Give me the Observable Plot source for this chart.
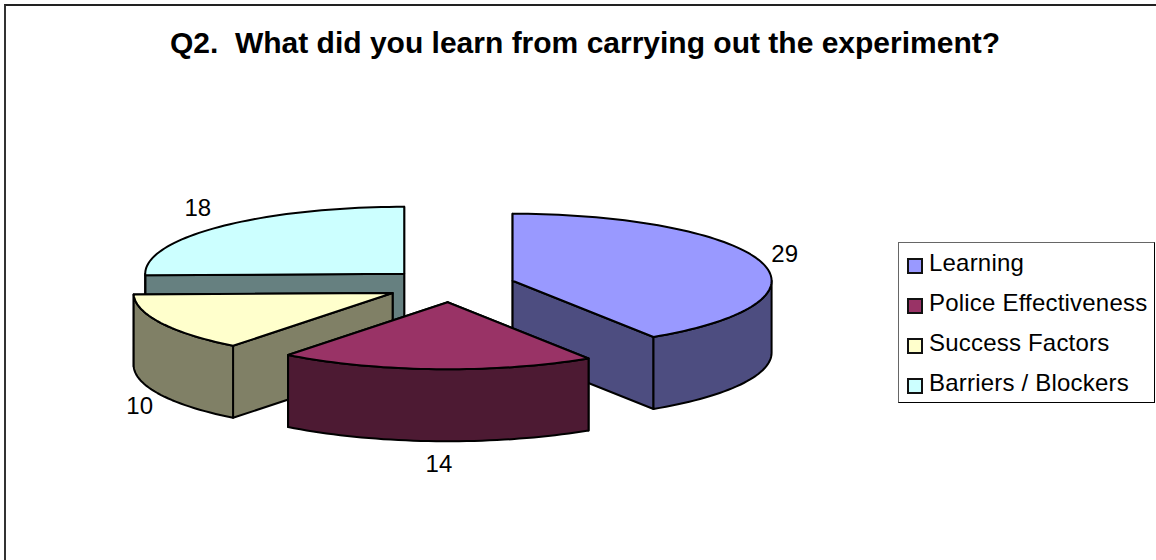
<!DOCTYPE html>
<html>
<head>
<meta charset="utf-8">
<script src="https://cdn.jsdelivr.net/npm/d3@7"></script>
<script src="https://cdn.jsdelivr.net/npm/@observablehq/plot@0.6"></script>
<style>
  html, body { margin: 0; padding: 0; background: #fff; overflow: hidden; }
  #wrap { position: relative; width: 1156px; height: 560px; overflow: hidden; font-family: "Liberation Sans", Arial, sans-serif; color: #000; }
  #edge { position: absolute; left: 4px; top: 4px; width: 1200px; height: 600px; border-left: 2px solid #333; border-top: 2px solid #222; }
  #title { position: absolute; left: 0; top: 27px; width: 1170px; text-align: center; margin: 0; font-size: 30px; line-height: 32px; font-weight: bold; white-space: pre; }
  #legend { position: absolute; left: 898px; top: 242px; width: 255px; height: 159px; border: 1px solid #000; border-left-color: #666; border-top-color: #666; box-sizing: content-box; background: #fff; }
  .row { position: absolute; left: 8px; height: 24px; font-size: 24px; line-height: 24px; white-space: pre; letter-spacing: .2px; }
  .sw { position: absolute; left: 0; top: 5px; width: 12px; height: 12px; border: 2px solid #111; }
  .lb { position: absolute; left: 22px; top: -2px; }
  svg { position: absolute; left: 0; top: 0; background: transparent !important; }
</style>
</head>
<body>
<div id="wrap">
  <div id="edge"></div>
  <h1 id="title"></h1>
  <div id="chart"></div>
  <div id="legend"></div>
</div>
<script>
const titleText = "Q2.  What did you learn from carrying out the experiment?";
const categories = ["Learning", "Police Effectiveness", "Success Factors", "Barriers / Blockers"];
const values = [29, 14, 10, 18];
const topColors = ["#9999ff", "#993366", "#ffffcc", "#ccffff"];
const wallColors = ["#4d4d80", "#4d1a33", "#808066", "#668080"];

// Pie geometry, in pie units (radius = 1 on both axes; the scales flatten it).
const explode = 0.25;
const depth = 72 / 67;
const total = d3.sum(values);
const TAU = Math.PI * 2;

let running = 0;
const slices = values.map((v, i) => {
  const a0 = running / total * TAU;
  running += v;
  const a1 = running / total * TAU;
  const mid = (a0 + a1) / 2;
  return {
    i, v, a0, a1, mid,
    cx: explode * Math.sin(mid),
    cy: -explode * Math.cos(mid)
  };
});

const onRim = (s, a, drop = 0) => ({ x: s.cx + Math.sin(a), y: s.cy - Math.cos(a) + drop });
const arcPts = (s, a0, a1, drop = 0) => {
  const n = Math.max(2, Math.ceil((a1 - a0) / 0.03));
  return d3.range(n + 1).map(k => onRim(s, a0 + (a1 - a0) * k / n, drop));
};
const hub = (s, drop = 0) => ({ x: s.cx, y: s.cy + drop });
const close = pts => [...pts, pts[0]];

function faces(s) {
  const radial = [s.a0, s.a1]
    .sort((p, q) => -Math.cos(p) - -Math.cos(q))
    .map(a => close([hub(s), onRim(s, a), onRim(s, a, depth), hub(s, depth)]));
  const list = radial.map(pts => ({ pts, fill: wallColors[s.i] }));
  const f0 = Math.max(s.a0, Math.PI / 2), f1 = Math.min(s.a1, Math.PI * 3 / 2);
  if (f1 > f0) {
    list.push({ pts: close([...arcPts(s, f0, f1), ...arcPts(s, f0, f1, depth).reverse()]), fill: wallColors[s.i] });
  }
  list.push({ pts: close([hub(s), ...arcPts(s, s.a0, s.a1)]), fill: topColors[s.i] });
  return list;
}

const ordered = [...slices].sort((p, q) => p.cy - q.cy);
const faceMarks = ordered.flatMap(faces).map(f =>
  Plot.line(f.pts, { x: "x", y: "y", fill: f.fill, stroke: "#000", strokeWidth: 2, strokeLinejoin: "round", curve: "linear" })
);

const labels = slices.map(s => {
  const c = Math.cos(s.mid), front = c < 0;
  return {
    text: String(s.v),
    x: s.cx + 1.1 * Math.sin(s.mid) - 0.015 * c,
    y: s.cy - 1.1 * c + (front ? depth + 0.03 - 0.22 * c : -0.3 * c)
  };
});

const W = 1156, H = 560, originX = 450, originY = 285, rx = 259, ry = 67;
const chart = Plot.plot({
  width: W, height: H,
  margin: 0,
  x: { axis: null, domain: [-originX / rx, (W - originX) / rx], range: [0, W] },
  y: { axis: null, domain: [-originY / ry, (H - originY) / ry], range: [0, H] },
  style: { background: "transparent", fontFamily: '"Liberation Sans", Arial, sans-serif' },
  marks: [
    ...faceMarks,
    Plot.text(labels, { x: "x", y: "y", text: "text", fontSize: 24, fill: "#000", textAnchor: "middle", lineAnchor: "middle" })
  ]
});
document.getElementById("chart").appendChild(chart);
document.getElementById("title").textContent = titleText;

const legend = document.getElementById("legend");
categories.forEach((c, i) => {
  const row = document.createElement("div");
  row.className = "row";
  row.style.top = (10 + i * 40) + "px";
  const sw = document.createElement("span");
  sw.className = "sw";
  sw.style.background = topColors[i];
  const lb = document.createElement("span");
  lb.className = "lb";
  lb.textContent = c;
  row.append(sw, lb);
  legend.appendChild(row);
});
</script>
</body>
</html>
